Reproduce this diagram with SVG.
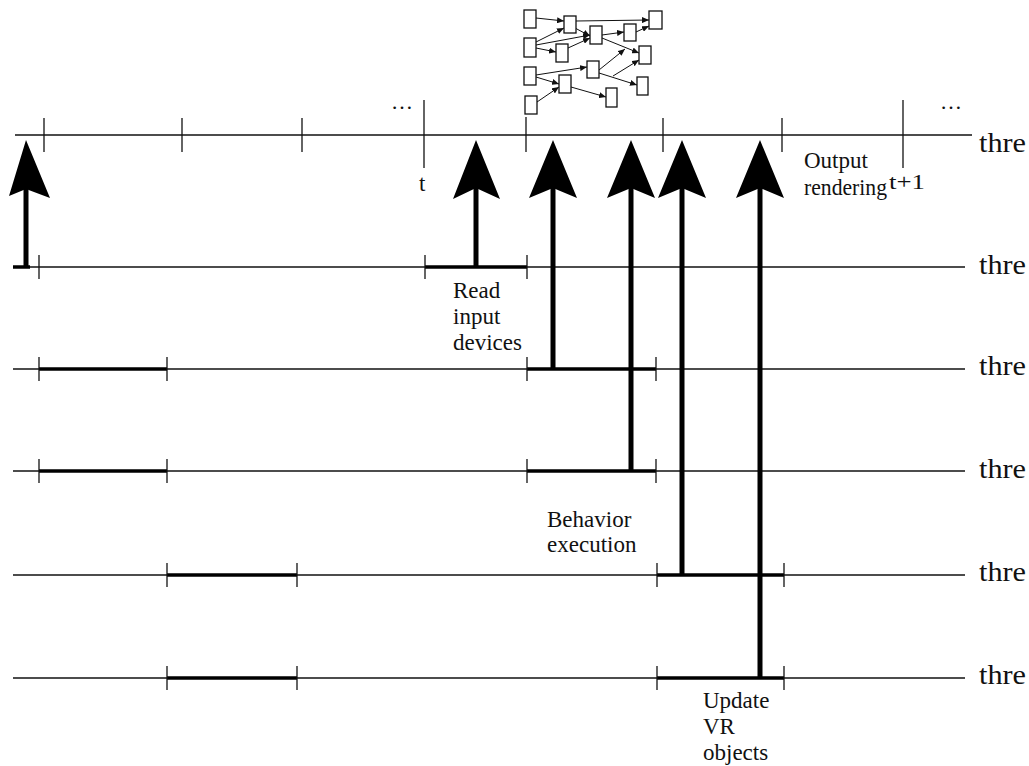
<svg xmlns="http://www.w3.org/2000/svg" width="1029" height="766" viewBox="0 0 1029 766">
<style>
.ln{stroke:#111;stroke-width:1.3;fill:none}
.tk{stroke:#111;stroke-width:1.3}
.bar{stroke:#000;stroke-width:3.5}
.sh{stroke:#000;stroke-width:5}
.hd{fill:#000}
.bx{fill:#fff;stroke:#111;stroke-width:1.3}
.ar{stroke:#111;stroke-width:1;fill:none;marker-end:url(#m)}
text{font-family:"Liberation Serif","Times New Roman",serif;fill:#111}
.lb{font-size:23px}
.th{font-size:28px}
.dt{font-size:22px}
</style>
<defs>
<marker id="m" markerUnits="userSpaceOnUse" markerWidth="7" markerHeight="6" refX="7" refY="3" orient="auto">
<path d="M0,0 L7,3 L0,6 Z" fill="#111"/>
</marker>
</defs>
<rect width="1029" height="766" fill="#fff"/>

<g id="thread1">
<line class="ln" x1="15" y1="135" x2="972" y2="135"/>
<line class="tk" x1="44" y1="118" x2="44" y2="152"/>
<line class="tk" x1="182" y1="118" x2="182" y2="152"/>
<line class="tk" x1="302" y1="118" x2="302" y2="152"/>
<line class="tk" x1="424" y1="100" x2="424" y2="168"/>
<line class="tk" x1="526" y1="117" x2="526" y2="152"/>
<line class="tk" x1="663" y1="118" x2="663" y2="152"/>
<line class="tk" x1="782" y1="118" x2="782" y2="152"/>
<line class="tk" x1="903" y1="100" x2="903" y2="168"/>
<text class="dt" x="391" y="109">…</text>
<text class="dt" x="940" y="109">…</text>
<text class="lb" x="419" y="191">t</text>
<text class="lb" x="804" y="168">Output</text>
<text class="lb" x="804" y="195" textLength="83" lengthAdjust="spacingAndGlyphs">rendering</text>
<text x="889" y="189" font-size="20" textLength="36" lengthAdjust="spacingAndGlyphs">t+1</text>
<text class="th" x="979" y="152" textLength="47" lengthAdjust="spacingAndGlyphs">thre</text>
</g>

<g id="thread2">
<line class="ln" x1="13" y1="267" x2="965" y2="267"/>
<line class="bar" x1="13" y1="267" x2="30" y2="267"/>
<line class="bar" x1="425" y1="267" x2="527" y2="267"/>
<line class="tk" x1="39" y1="255" x2="39" y2="279"/>
<line class="tk" x1="425" y1="255" x2="425" y2="279"/>
<line class="tk" x1="527" y1="255" x2="527" y2="279"/>
<text class="lb" x="453" y="298">Read</text>
<text class="lb" x="453" y="324">input</text>
<text class="lb" x="453" y="350">devices</text>
<text class="th" x="979" y="274" textLength="47" lengthAdjust="spacingAndGlyphs">thre</text>
</g>

<g id="thread3">
<line class="ln" x1="13" y1="369" x2="965" y2="369"/>
<line class="bar" x1="39" y1="369" x2="167" y2="369"/>
<line class="bar" x1="527" y1="369" x2="656" y2="369"/>
<line class="tk" x1="39" y1="357" x2="39" y2="381"/>
<line class="tk" x1="167" y1="357" x2="167" y2="381"/>
<line class="tk" x1="527" y1="357" x2="527" y2="381"/>
<line class="tk" x1="656" y1="357" x2="656" y2="381"/>
<text class="th" x="979" y="375" textLength="47" lengthAdjust="spacingAndGlyphs">thre</text>
</g>

<g id="thread4">
<line class="ln" x1="13" y1="471" x2="965" y2="471"/>
<line class="bar" x1="39" y1="471" x2="167" y2="471"/>
<line class="bar" x1="527" y1="471" x2="656" y2="471"/>
<line class="tk" x1="39" y1="459" x2="39" y2="483"/>
<line class="tk" x1="167" y1="459" x2="167" y2="483"/>
<line class="tk" x1="527" y1="459" x2="527" y2="483"/>
<line class="tk" x1="656" y1="459" x2="656" y2="483"/>
<text class="lb" x="547" y="527">Behavior</text>
<text class="lb" x="547" y="552">execution</text>
<text class="th" x="979" y="478" textLength="47" lengthAdjust="spacingAndGlyphs">thre</text>
</g>

<g id="thread5">
<line class="ln" x1="13" y1="575" x2="965" y2="575"/>
<line class="bar" x1="167" y1="575" x2="297" y2="575"/>
<line class="bar" x1="657" y1="575" x2="784" y2="575"/>
<line class="tk" x1="167" y1="563" x2="167" y2="587"/>
<line class="tk" x1="297" y1="563" x2="297" y2="587"/>
<line class="tk" x1="657" y1="563" x2="657" y2="587"/>
<line class="tk" x1="784" y1="563" x2="784" y2="587"/>
<text class="th" x="979" y="581" textLength="47" lengthAdjust="spacingAndGlyphs">thre</text>
</g>

<g id="thread6">
<line class="ln" x1="13" y1="678" x2="965" y2="678"/>
<line class="bar" x1="167" y1="678" x2="297" y2="678"/>
<line class="bar" x1="657" y1="678" x2="784" y2="678"/>
<line class="tk" x1="167" y1="666" x2="167" y2="690"/>
<line class="tk" x1="297" y1="666" x2="297" y2="690"/>
<line class="tk" x1="657" y1="666" x2="657" y2="690"/>
<line class="tk" x1="784" y1="666" x2="784" y2="690"/>
<text class="lb" x="703" y="708">Update</text>
<text class="lb" x="703" y="734">VR</text>
<text class="lb" x="703" y="760">objects</text>
<text class="th" x="979" y="684" textLength="47" lengthAdjust="spacingAndGlyphs">thre</text>
</g>

<g id="scene-graph">
<g id="sg-connectors">
<line class="ar" x1="536" y1="18" x2="564" y2="21"/>
<line class="ar" x1="576" y1="21" x2="649" y2="20"/>
<line class="ar" x1="575" y1="28" x2="590" y2="36"/>
<line class="ar" x1="536" y1="42" x2="564" y2="28"/>
<line class="ar" x1="536" y1="45" x2="590" y2="35"/>
<line class="ar" x1="536" y1="48" x2="556" y2="52"/>
<line class="ar" x1="568" y1="48" x2="590" y2="38"/>
<line class="ar" x1="602" y1="35" x2="624" y2="32"/>
<line class="ar" x1="636" y1="32" x2="649" y2="26"/>
<line class="ar" x1="602" y1="38" x2="639" y2="53"/>
<line class="ar" x1="536" y1="75" x2="587" y2="67"/>
<line class="ar" x1="536" y1="77" x2="559" y2="84"/>
<line class="ar" x1="537" y1="102" x2="559" y2="87"/>
<line class="ar" x1="571" y1="87" x2="606" y2="97"/>
<line class="ar" x1="599" y1="70" x2="625" y2="49"/>
<line class="ar" x1="599" y1="73" x2="637" y2="85"/>
<line class="ar" x1="613" y1="76" x2="639" y2="60"/>
</g>
<rect class="bx" x="524" y="10" width="12" height="18"/>
<rect class="bx" x="564" y="16" width="12" height="17"/>
<rect class="bx" x="649" y="11" width="13" height="18"/>
<rect class="bx" x="524" y="38" width="12" height="19"/>
<rect class="bx" x="590" y="26" width="12" height="18"/>
<rect class="bx" x="624" y="24" width="12" height="17"/>
<rect class="bx" x="556" y="44" width="12" height="18"/>
<rect class="bx" x="639" y="46" width="12" height="18"/>
<rect class="bx" x="524" y="67" width="12" height="18"/>
<rect class="bx" x="587" y="61" width="12" height="17"/>
<rect class="bx" x="559" y="75" width="12" height="18"/>
<rect class="bx" x="637" y="77" width="11" height="18"/>
<rect class="bx" x="525" y="96" width="12" height="18"/>
<rect class="bx" x="606" y="88" width="11" height="19"/>
</g>

<g id="connectors">
<line class="sh" x1="26" y1="267" x2="26" y2="188"/>
<polygon class="hd" points="26,140 50,198 26,189 9,196"/>
<line class="sh" x1="476" y1="267" x2="476" y2="188"/>
<polygon class="hd" points="476,140 500,199 476,188 453,199"/>
<line class="sh" x1="553" y1="369" x2="553" y2="188"/>
<polygon class="hd" points="553,140 577,198 553,188 529,198"/>
<line class="sh" x1="631" y1="471" x2="631" y2="188"/>
<polygon class="hd" points="631,140 655,198 631,188 607,198"/>
<line class="sh" x1="682" y1="575" x2="682" y2="188"/>
<polygon class="hd" points="682,140 706,198 682,188 658,198"/>
<line class="sh" x1="760" y1="678" x2="760" y2="188"/>
<polygon class="hd" points="760,140 784,198 760,188 736,198"/>
</g>
</svg>
